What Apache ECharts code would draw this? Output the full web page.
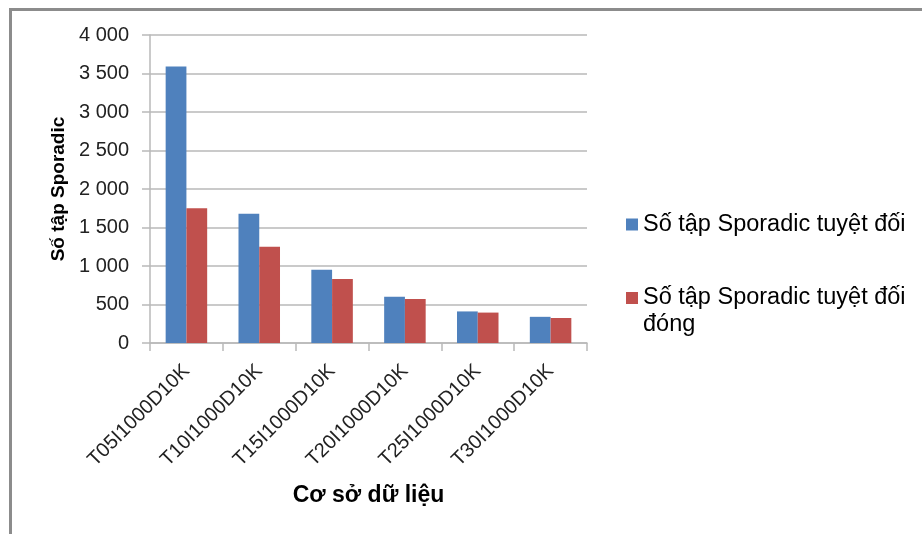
<!DOCTYPE html>
<html>
<head>
<meta charset="utf-8">
<script src="https://cdn.jsdelivr.net/npm/echarts@6/dist/echarts.min.js"></script>
<style>
  html, body { margin: 0; padding: 0; background: #fff; }
  #chart { width: 922px; height: 534px; }
</style>
</head>
<body>
<div id="chart"></div>
<script>
// Databases tested
const databases = ['T05I1000D10K', 'T10I1000D10K', 'T15I1000D10K', 'T20I1000D10K', 'T25I1000D10K', 'T30I1000D10K'];

// Number of absolute sporadic itemsets per database
const sporadicAbsolute = [3590, 1680, 950, 600, 410, 340];
// Number of closed absolute sporadic itemsets per database
const sporadicClosed = [1750, 1250, 830, 570, 395, 325];

const seriesNames = ['Số tập Sporadic tuyệt đối', 'Số tập Sporadic tuyệt đối đóng'];
const yTicks = { min: 0, max: 4000, step: 500 };

const chart = echarts.init(document.getElementById('chart'));

// "3500" -> "3 500"
const fmt = v => {
  const s = String(v);
  return s.length > 3 ? s.slice(0, s.length - 3) + ' ' + s.slice(-3) : s;
};

const gridColor = '#b9b9b9';
const labelFont = 'Liberation Sans, Arial, sans-serif';
const legendFont = { fontFamily: labelFont, fontSize: 23.5, color: '#000' };

chart.setOption({
  animation: false,
  backgroundColor: '#fff',
  grid: { left: 150, right: 335, top: 35, bottom: 191, containLabel: false },
  legend: [
    {
      data: [seriesNames[0]],
      orient: 'vertical',
      left: 621, top: 206,
      itemWidth: 12, itemHeight: 12,
      icon: 'rect',
      textStyle: Object.assign({ lineHeight: 27 }, legendFont)
    },
    {
      // long name wraps onto a second line; an empty first line of the same
      // height keeps the swatch level with the first line of text
      data: [seriesNames[1]],
      orient: 'vertical',
      left: 621, top: 254,
      itemWidth: 12, itemHeight: 12,
      icon: 'rect',
      formatter: name => {
        const cut = name.lastIndexOf(' ');
        return '{e| }\n{t|' + name.slice(0, cut) + '}\n{t|' + name.slice(cut + 1) + '}';
      },
      textStyle: Object.assign({
        rich: {
          e: Object.assign({ lineHeight: 27 }, legendFont),
          t: Object.assign({ lineHeight: 27 }, legendFont)
        }
      }, legendFont)
    }
  ],
  xAxis: {
    type: 'category',
    data: databases,
    name: 'Cơ sở dữ liệu',
    nameLocation: 'middle',
    nameGap: 141,
    nameTextStyle: { fontFamily: labelFont, fontSize: 23, fontWeight: 'bold', color: '#000' },
    axisLine: { lineStyle: { color: gridColor, width: 1.5 } },
    axisTick: { show: true, length: 8, lineStyle: { color: gridColor, width: 1.5 } },
    axisLabel: {
      rotate: 45, margin: 25, interval: 0,
      fontFamily: labelFont, fontSize: 20, color: '#222'
    }
  },
  yAxis: {
    type: 'value',
    min: yTicks.min, max: yTicks.max, interval: yTicks.step,
    name: 'Số tập Sporadic',
    nameLocation: 'middle',
    nameRotate: 90,
    nameGap: 82,
    nameTextStyle: { fontFamily: labelFont, fontSize: 19, fontWeight: 'bold', color: '#000' },
    axisLine: { show: true, lineStyle: { color: gridColor, width: 1.5 } },
    axisTick: { show: true, length: 8, lineStyle: { color: gridColor, width: 1.5 } },
    splitLine: { lineStyle: { color: gridColor, width: 1.5 } },
    axisLabel: {
      margin: 21, fontFamily: labelFont, fontSize: 20, color: '#222',
      formatter: fmt
    }
  },
  series: [
    {
      name: seriesNames[0], type: 'bar', data: sporadicAbsolute,
      barGap: '0%', barCategoryGap: '43%',
      itemStyle: { color: '#4f81bd' }
    },
    {
      name: seriesNames[1], type: 'bar', data: sporadicClosed,
      barGap: '0%', barCategoryGap: '43%',
      itemStyle: { color: '#c0504d' }
    }
  ],
  graphic: [
    {
      type: 'polyline',
      shape: { points: [[10.5, 534], [10.5, 9.5], [922, 9.5]] },
      style: { stroke: '#8c8c8c', lineWidth: 3, fill: null }
    }
  ]
});
</script>
</body>
</html>
